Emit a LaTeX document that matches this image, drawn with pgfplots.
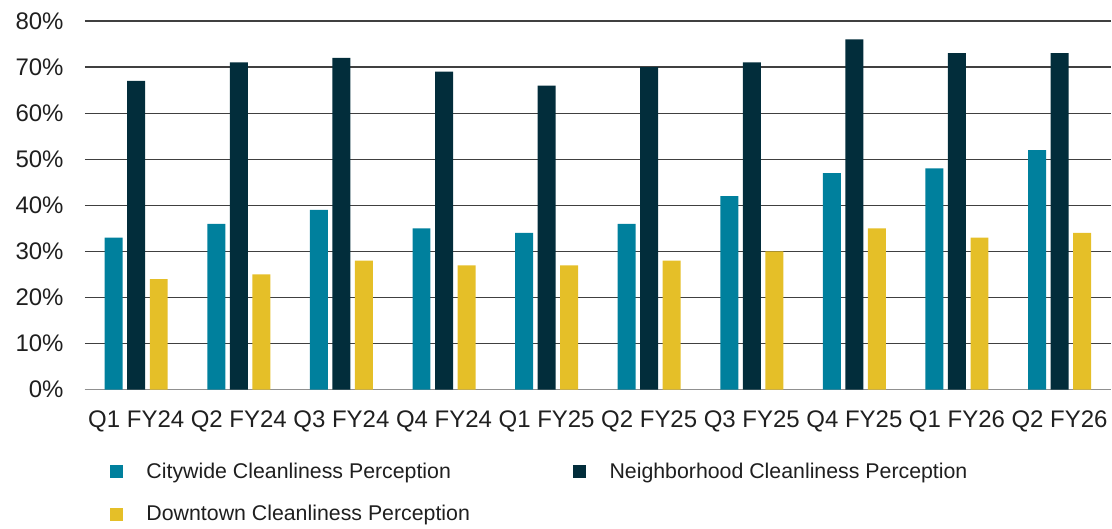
\documentclass[border=0pt]{standalone}
\usepackage{pgfplots}
\pgfplotsset{compat=1.18}
\usepackage{fontspec}
\setmainfont{Liberation Sans}
\definecolor{cteal}{HTML}{00809D}
\definecolor{cdark}{HTML}{022D3B}
\definecolor{cyel}{HTML}{E5BF28}
\definecolor{cgrid}{HTML}{404040}
\definecolor{cbase}{HTML}{909090}
\begin{document}
\begin{tikzpicture}
\begin{axis}[
  name=ax,
  scale only axis,
  width=770pt, height=276.75pt,
  xmin=-0.5, xmax=9.5, ymin=0, ymax=80,
  ybar=3.4pt, bar width=13.5pt,
  xtick=data,
  xticklabels={Q1 FY24,Q2 FY24,Q3 FY24,Q4 FY24,Q1 FY25,Q2 FY25,Q3 FY25,Q4 FY25,Q1 FY26,Q2 FY26},
  ytick={0,10,...,80},
  yticklabel={\pgfmathprintnumber{\tick}\%},
  /pgf/number format/assume math mode=true,
  tick label style={font=\fontsize{18}{21}\selectfont, text=black!88},
  yticklabel style={xshift=-12.5pt},
  xticklabel style={yshift=-12pt},
  major tick length=0pt,
  axis line style={draw=none},
  ymajorgrids,
  grid style={cgrid, line width=0.9pt},
  legend columns=2,
  legend style={draw=none, at={(15.75pt,-50.5pt)}, anchor=north west,
    font=\fontsize{16}{19}\selectfont, text=black!88,
    /tikz/every even column/.append style={column sep=75.5pt},
    row sep=15pt},
  legend cell align=left,
  legend image code/.code={\fill[#1,draw=none] (0pt,-4.9pt) rectangle (9.75pt,4.9pt);\path[draw=none,fill=none] (0pt,0pt) -- (25.25pt,0pt);},
]
\draw[cbase, line width=1pt] (axis cs:-0.5,0) -- (axis cs:9.5,0);
\addplot[fill=cteal, draw=none] coordinates {(0,33) (1,36) (2,39) (3,35) (4,34) (5,36) (6,42) (7,47) (8,48) (9,52)};
\addplot[fill=cdark, draw=none] coordinates {(0,67) (1,71) (2,72) (3,69) (4,66) (5,70) (6,71) (7,76) (8,73) (9,73)};
\addplot[fill=cyel, draw=none] coordinates {(0,24) (1,25) (2,28) (3,27) (4,27) (5,28) (6,30) (7,35) (8,33) (9,34)};
\legend{Citywide Cleanliness Perception, Neighborhood Cleanliness Perception, Downtown Cleanliness Perception}
\end{axis}
\path ([xshift=-63.75pt,yshift=-101.25pt]ax.south west) rectangle ([yshift=15.75pt]ax.north east);
\end{tikzpicture}
\end{document}
